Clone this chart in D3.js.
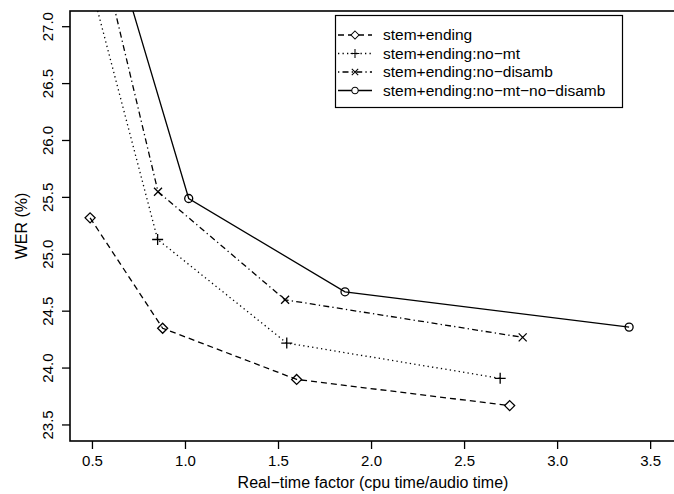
<!DOCTYPE html>
<html>
<head>
<meta charset="utf-8">
<script src="https://cdn.jsdelivr.net/npm/d3@7"></script>
<style>
  body { margin: 0; background: #fff; }
  text { font-family: "Liberation Sans", Arial, sans-serif; fill: #000; }
</style>
</head>
<body>
<svg width="674" height="494"></svg>
<script>
// chart data
var xTicks = [0.5, 1.0, 1.5, 2.0, 2.5, 3.0, 3.5];
var yTicks = [23.5, 24.0, 24.5, 25.0, 25.5, 26.0, 26.5, 27.0];
var seriesNames = ["stem+ending", "stem+ending:no\u2212mt", "stem+ending:no\u2212disamb", "stem+ending:no\u2212mt\u2212no\u2212disamb"];
var rtfStem = [0.49, 0.88, 1.60, 2.745];
var werStem = [25.32, 24.35, 23.90, 23.67];
var rtfNoMt = [0.50, 0.853, 1.547, 2.694];
var werNoMt = [27.33, 25.13, 24.22, 23.91];
var rtfNoDisamb = [0.56, 0.855, 1.538, 2.815];
var werNoDisamb = [27.58, 25.55, 24.60, 24.27];
var rtfNoBoth = [0.66, 1.02, 1.86, 3.387];
var werNoBoth = [27.47, 25.49, 24.67, 24.36];

function main() {
	var svg = d3.select('svg');
	var left = 70, top = 11, bottom = 441, right = 676;

	var x = d3.scaleLinear().domain([0.382, 3.639]).range([left, right]);
	var y = d3.scaleLinear().domain([23.359, 27.138]).range([bottom, top]);

	var series = [
		{name: seriesNames[0], x: rtfStem, y: werStem, dash: '6,4', pch: 'diamond'},
		{name: seriesNames[1], x: rtfNoMt, y: werNoMt, dash: '1.3,3.2', pch: 'plus'},
		{name: seriesNames[2], x: rtfNoDisamb, y: werNoDisamb, dash: '1.3,3.2,6,3.2', pch: 'cross'},
		{name: seriesNames[3], x: rtfNoBoth, y: werNoBoth, dash: null, pch: 'circle'}
	];

	// marker paths, R style
	function marker(g, pch) {
		var s = 5;
		if (pch == 'diamond') {
			g.append('path').attr('d', 'M0,' + (-s) + 'L' + s + ',0L0,' + s + 'L' + (-s) + ',0Z');
		} else if (pch == 'plus') {
			g.append('path').attr('d', 'M' + (-s - 0.5) + ',0H' + (s + 0.5) + 'M0,' + (-s - 0.5) + 'V' + (s + 0.5));
		} else if (pch == 'cross') {
			g.append('path').attr('d', 'M-4,-4L4,4M-4,4L4,-4');
		} else {
			g.append('circle').attr('r', 4);
		}
		g.attr('fill', 'none').attr('stroke', '#000').attr('stroke-width', 1.3);
	}

	svg.append('clipPath').attr('id', 'plotclip')
		.append('rect').attr('x', left).attr('y', top)
		.attr('width', right - left).attr('height', bottom - top);

	var plot = svg.append('g').attr('clip-path', 'url(#plotclip)');
	var line = d3.line().x(function(d){ return x(d[0]); }).y(function(d){ return y(d[1]); });

	series.forEach(function(s) {
		var pts = d3.zip(s.x, s.y);
		plot.append('path')
			.attr('d', line(pts))
			.attr('fill', 'none')
			.attr('stroke', '#000')
			.attr('stroke-width', 1.3)
			.attr('stroke-dasharray', s.dash);
		pts.forEach(function(p) {
			var g = plot.append('g').attr('transform', 'translate(' + x(p[0]) + ',' + y(p[1]) + ')');
			marker(g, s.pch);
		});
	});

	// box
	svg.append('rect')
		.attr('x', left).attr('y', top)
		.attr('width', right - left).attr('height', bottom - top)
		.attr('fill', 'none').attr('stroke', '#000').attr('stroke-width', 1.6);

	// axes
	var xAxis = d3.axisBottom(x).tickValues(xTicks).tickSize(8).tickPadding(6)
		.tickFormat(d3.format('.1f'));
	var gx = svg.append('g').attr('transform', 'translate(0,' + bottom + ')').call(xAxis);
	gx.select('.domain').remove();
	gx.selectAll('line').attr('stroke-width', 1.3);
	gx.selectAll('text').attr('font-size', 15).attr('font-family', null);

	var yAxis = d3.axisLeft(y).tickValues(yTicks).tickSize(8).tickPadding(6)
		.tickFormat(d3.format('.1f'));
	var gy = svg.append('g').attr('transform', 'translate(' + left + ',0)').call(yAxis);
	gy.select('.domain').remove();
	gy.selectAll('line').attr('stroke-width', 1.3);
	gy.selectAll('text')
		.attr('font-size', 15).attr('font-family', null)
		.attr('text-anchor', 'middle')
		.attr('dy', null)
		.attr('transform', function(d){ return 'translate(-23,' + y(d) + ') rotate(-90)'; })
		.attr('x', 0).attr('y', 0)
		.attr('dominant-baseline', 'central');
	gy.selectAll('.tick').attr('transform', function(d){ return 'translate(0,0)'; });
	gy.selectAll('.tick line').attr('y1', function(d){ return y(d); }).attr('y2', function(d){ return y(d); });

	svg.append('text')
		.attr('x', (left + right) / 2).attr('y', 488)
		.attr('text-anchor', 'middle').attr('font-size', 16)
		.text('Real\u2212time factor (cpu time/audio time)');

	svg.append('text')
		.attr('transform', 'translate(27,' + (top + bottom) / 2 + ') rotate(-90)')
		.attr('text-anchor', 'middle').attr('font-size', 16)
		.text('WER (%)');

	// legend
	var lg = svg.append('g');
	lg.append('rect').attr('x', 335.5).attr('y', 15.5).attr('width', 287).attr('height', 92)
		.attr('fill', '#fff').attr('stroke', '#000').attr('stroke-width', 1.2);
	series.forEach(function(s, i) {
		var ry = 35 + i * 18.5;
		lg.append('line').attr('x1', 338).attr('x2', 372).attr('y1', ry).attr('y2', ry)
			.attr('stroke', '#000').attr('stroke-width', 1.3)
			.attr('stroke-dasharray', s.dash);
		var g = lg.append('g').attr('transform', 'translate(355,' + ry + ') scale(0.8)');
		marker(g, s.pch);
		g.attr('fill', '#fff');
		lg.append('text').attr('x', 383).attr('y', ry).attr('dy', '0.35em')
			.attr('font-size', 15.5).text(s.name);
	});
}
main();
</script>
</body>
</html>
